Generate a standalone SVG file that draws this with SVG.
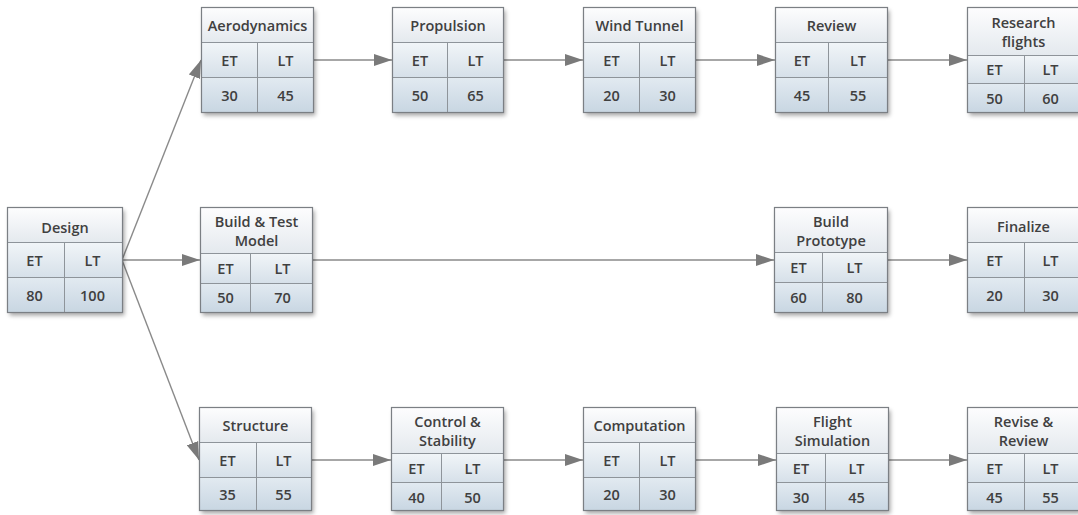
<svg xmlns="http://www.w3.org/2000/svg" width="1078" height="515" viewBox="0 0 1078 515">
  <defs>
    <linearGradient id="gTitle" x1="0" y1="0" x2="0" y2="1">
      <stop offset="0" stop-color="#fdfdfe"/>
      <stop offset="1" stop-color="#e4e9ee"/>
    </linearGradient>
    <linearGradient id="gHead" x1="0" y1="0" x2="0" y2="1">
      <stop offset="0" stop-color="#f1f5f8"/>
      <stop offset="1" stop-color="#d6e0e9"/>
    </linearGradient>
    <linearGradient id="gVal" x1="0" y1="0" x2="0" y2="1">
      <stop offset="0" stop-color="#e2eaf1"/>
      <stop offset="1" stop-color="#c8d6e2"/>
    </linearGradient>
    <filter id="shadow" x="-10%" y="-10%" width="125%" height="130%">
      <feDropShadow dx="2" dy="3" stdDeviation="2" flood-color="#000" flood-opacity="0.35"/>
    </filter>
    <marker id="arrow" markerUnits="userSpaceOnUse" markerWidth="19" markerHeight="13" refX="18" refY="6.5" orient="auto">
      <path d="M0,0.5 L18,6.5 L0,12.5 Z" fill="#7a7a7a"/>
    </marker>
  </defs>
  <style>
    .bg { fill: #ffffff; filter: url(#shadow); }
    .t { fill: url(#gTitle); stroke: #8e949a; stroke-width: 1; }
    .h { fill: url(#gHead); stroke: #8e949a; stroke-width: 1; }
    .v { fill: url(#gVal); stroke: #8e949a; stroke-width: 1; }
    .frame { fill: none; stroke: #7b7f84; stroke-width: 1.2; }
    text { font-family: "Open Sans", "Liberation Sans", sans-serif; font-size: 14.5px; font-weight: 600; fill: #404040; text-anchor: middle; }
    .conn line { stroke: #8a8a8a; stroke-width: 1.4; fill: none; marker-end: url(#arrow); }
  </style>

  <!-- connectors -->
  <g id="connectors" class="conn">
    <line x1="122" y1="260" x2="201" y2="60"/>
    <line x1="122" y1="260" x2="200" y2="260"/>
    <line x1="122" y1="260" x2="199" y2="460"/>
    <line x1="313" y1="60" x2="392" y2="60"/>
    <line x1="503" y1="60" x2="583" y2="60"/>
    <line x1="695" y1="60" x2="775" y2="60"/>
    <line x1="887" y1="60" x2="967" y2="60"/>
    <line x1="312" y1="260" x2="774" y2="260"/>
    <line x1="887" y1="260" x2="967" y2="260"/>
    <line x1="311" y1="460" x2="391" y2="460"/>
    <line x1="503" y1="460" x2="583" y2="460"/>
    <line x1="695" y1="460" x2="776" y2="460"/>
    <line x1="888" y1="460" x2="967" y2="460"/>
  </g>

  <!-- top row -->
  <g id="aerodynamics" transform="translate(201.5,7.5)">
    <rect class="bg" width="112" height="105"/>
    <rect class="t" width="112" height="35"/>
    <rect class="h" y="35" width="56" height="35"/><rect class="h" x="56" y="35" width="56" height="35"/>
    <rect class="v" y="70" width="56" height="35"/><rect class="v" x="56" y="70" width="56" height="35"/>
    <rect class="frame" width="112" height="105"/>
    <text x="56" y="23">Aerodynamics</text>
    <text x="28" y="58">ET</text><text x="84" y="58">LT</text>
    <text x="28" y="93">30</text><text x="84" y="93">45</text>
  </g>

  <g id="propulsion" transform="translate(392.5,7.5)">
    <rect class="bg" width="111" height="105"/>
    <rect class="t" width="111" height="35"/>
    <rect class="h" y="35" width="55" height="35"/><rect class="h" x="55" y="35" width="56" height="35"/>
    <rect class="v" y="70" width="55" height="35"/><rect class="v" x="55" y="70" width="56" height="35"/>
    <rect class="frame" width="111" height="105"/>
    <text x="55.5" y="23">Propulsion</text>
    <text x="27.5" y="58">ET</text><text x="83" y="58">LT</text>
    <text x="27.5" y="93">50</text><text x="83" y="93">65</text>
  </g>

  <g id="wind-tunnel" transform="translate(583.5,7.5)">
    <rect class="bg" width="112" height="105"/>
    <rect class="t" width="112" height="35"/>
    <rect class="h" y="35" width="56" height="35"/><rect class="h" x="56" y="35" width="56" height="35"/>
    <rect class="v" y="70" width="56" height="35"/><rect class="v" x="56" y="70" width="56" height="35"/>
    <rect class="frame" width="112" height="105"/>
    <text x="56" y="23">Wind Tunnel</text>
    <text x="28" y="58">ET</text><text x="84" y="58">LT</text>
    <text x="28" y="93">20</text><text x="84" y="93">30</text>
  </g>

  <g id="review" transform="translate(775.5,7.5)">
    <rect class="bg" width="112" height="105"/>
    <rect class="t" width="112" height="35"/>
    <rect class="h" y="35" width="53" height="35"/><rect class="h" x="53" y="35" width="59" height="35"/>
    <rect class="v" y="70" width="53" height="35"/><rect class="v" x="53" y="70" width="59" height="35"/>
    <rect class="frame" width="112" height="105"/>
    <text x="56" y="23">Review</text>
    <text x="26.5" y="58">ET</text><text x="82.5" y="58">LT</text>
    <text x="26.5" y="93">45</text><text x="82.5" y="93">55</text>
  </g>

  <g id="research-flights" transform="translate(967.5,7.5)">
    <rect class="bg" width="112" height="105"/>
    <rect class="t" width="112" height="48"/>
    <rect class="h" y="48" width="57" height="28"/><rect class="h" x="57" y="48" width="55" height="28"/>
    <rect class="v" y="76" width="57" height="29"/><rect class="v" x="57" y="76" width="55" height="29"/>
    <rect class="frame" width="112" height="105"/>
    <text x="56" y="20">Research</text>
    <text x="56" y="39">flights</text>
    <text x="27" y="67">ET</text><text x="83" y="67">LT</text>
    <text x="27" y="96">50</text><text x="83" y="96">60</text>
  </g>

  <!-- middle row -->
  <g id="design" transform="translate(7.5,207.5)">
    <rect class="bg" width="115" height="105"/>
    <rect class="t" width="115" height="35"/>
    <rect class="h" y="35" width="57" height="35"/><rect class="h" x="57" y="35" width="58" height="35"/>
    <rect class="v" y="70" width="57" height="35"/><rect class="v" x="57" y="70" width="58" height="35"/>
    <rect class="frame" width="115" height="105"/>
    <text x="57.5" y="25">Design</text>
    <text x="27" y="58">ET</text><text x="85" y="58">LT</text>
    <text x="27" y="93">80</text><text x="85" y="93">100</text>
  </g>

  <g id="build-test-model" transform="translate(200.5,207.5)">
    <rect class="bg" width="112" height="105"/>
    <rect class="t" width="112" height="46"/>
    <rect class="h" y="46" width="50" height="30"/><rect class="h" x="50" y="46" width="62" height="30"/>
    <rect class="v" y="76" width="50" height="29"/><rect class="v" x="50" y="76" width="62" height="29"/>
    <rect class="frame" width="112" height="105"/>
    <text x="56" y="19.5">Build &amp; Test</text>
    <text x="56" y="38.5">Model</text>
    <text x="25" y="66.5">ET</text><text x="82" y="66.5">LT</text>
    <text x="25" y="95.5">50</text><text x="82" y="95.5">70</text>
  </g>

  <g id="build-prototype" transform="translate(774.5,207.5)">
    <rect class="bg" width="113" height="105"/>
    <rect class="t" width="113" height="45"/>
    <rect class="h" y="45" width="48" height="30"/><rect class="h" x="48" y="45" width="65" height="30"/>
    <rect class="v" y="75" width="48" height="30"/><rect class="v" x="48" y="75" width="65" height="30"/>
    <rect class="frame" width="113" height="105"/>
    <text x="56.5" y="19.5">Build</text>
    <text x="56.5" y="38.5">Prototype</text>
    <text x="24" y="65.5">ET</text><text x="80" y="65.5">LT</text>
    <text x="24" y="95.5">60</text><text x="80" y="95.5">80</text>
  </g>

  <g id="finalize" transform="translate(967.5,207.5)">
    <rect class="bg" width="112" height="105"/>
    <rect class="t" width="112" height="35"/>
    <rect class="h" y="35" width="57" height="35"/><rect class="h" x="57" y="35" width="55" height="35"/>
    <rect class="v" y="70" width="57" height="35"/><rect class="v" x="57" y="70" width="55" height="35"/>
    <rect class="frame" width="112" height="105"/>
    <text x="56" y="24">Finalize</text>
    <text x="27" y="58">ET</text><text x="83" y="58">LT</text>
    <text x="27" y="93">20</text><text x="83" y="93">30</text>
  </g>

  <!-- bottom row -->
  <g id="structure" transform="translate(199.5,407.5)">
    <rect class="bg" width="112" height="103"/>
    <rect class="t" width="112" height="35"/>
    <rect class="h" y="35" width="57" height="35"/><rect class="h" x="57" y="35" width="55" height="35"/>
    <rect class="v" y="70" width="57" height="33"/><rect class="v" x="57" y="70" width="55" height="33"/>
    <rect class="frame" width="112" height="103"/>
    <text x="56" y="23">Structure</text>
    <text x="28" y="58">ET</text><text x="84" y="58">LT</text>
    <text x="28" y="92">35</text><text x="84" y="92">55</text>
  </g>

  <g id="control-stability" transform="translate(391.5,407.5)">
    <rect class="bg" width="112" height="103"/>
    <rect class="t" width="112" height="46"/>
    <rect class="h" y="46" width="50" height="29"/><rect class="h" x="50" y="46" width="62" height="29"/>
    <rect class="v" y="75" width="50" height="28"/><rect class="v" x="50" y="75" width="62" height="28"/>
    <rect class="frame" width="112" height="103"/>
    <text x="56" y="19.5">Control &amp;</text>
    <text x="56" y="38.5">Stability</text>
    <text x="25" y="66">ET</text><text x="81" y="66">LT</text>
    <text x="25" y="95">40</text><text x="81" y="95">50</text>
  </g>

  <g id="computation" transform="translate(583.5,407.5)">
    <rect class="bg" width="112" height="103"/>
    <rect class="t" width="112" height="35"/>
    <rect class="h" y="35" width="56" height="35"/><rect class="h" x="56" y="35" width="56" height="35"/>
    <rect class="v" y="70" width="56" height="33"/><rect class="v" x="56" y="70" width="56" height="33"/>
    <rect class="frame" width="112" height="103"/>
    <text x="56" y="23">Computation</text>
    <text x="28" y="58">ET</text><text x="84" y="58">LT</text>
    <text x="28" y="92">20</text><text x="84" y="92">30</text>
  </g>

  <g id="flight-simulation" transform="translate(776.5,407.5)">
    <rect class="bg" width="112" height="103"/>
    <rect class="t" width="112" height="46"/>
    <rect class="h" y="46" width="49" height="29"/><rect class="h" x="49" y="46" width="63" height="29"/>
    <rect class="v" y="75" width="49" height="28"/><rect class="v" x="49" y="75" width="63" height="28"/>
    <rect class="frame" width="112" height="103"/>
    <text x="56" y="19.5">Flight</text>
    <text x="56" y="38.5">Simulation</text>
    <text x="24.5" y="66">ET</text><text x="80" y="66">LT</text>
    <text x="24.5" y="95">30</text><text x="80" y="95">45</text>
  </g>

  <g id="revise-review" transform="translate(967.5,407.5)">
    <rect class="bg" width="112" height="103"/>
    <rect class="t" width="112" height="46"/>
    <rect class="h" y="46" width="57" height="29"/><rect class="h" x="57" y="46" width="55" height="29"/>
    <rect class="v" y="75" width="57" height="28"/><rect class="v" x="57" y="75" width="55" height="28"/>
    <rect class="frame" width="112" height="103"/>
    <text x="56" y="19.5">Revise &amp;</text>
    <text x="56" y="38.5">Review</text>
    <text x="27" y="66">ET</text><text x="83" y="66">LT</text>
    <text x="27" y="95">45</text><text x="83" y="95">55</text>
  </g>
</svg>
